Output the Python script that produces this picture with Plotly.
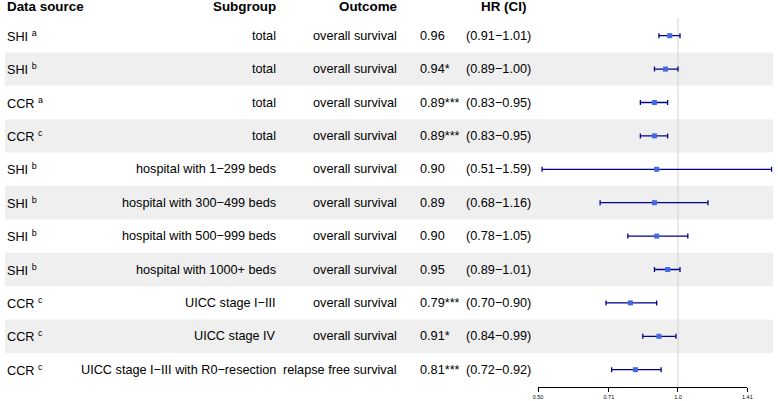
import math
import plotly.graph_objects as go

# ---------------- data ----------------
sources = ["SHI", "SHI", "CCR", "CCR", "SHI", "SHI", "SHI", "SHI", "CCR", "CCR", "CCR"]
notes = ["a", "b", "a", "c", "b", "b", "b", "b", "c", "c", "c"]
subgroups = ["total", "total", "total", "total",
             "hospital with 1\u2212299 beds", "hospital with 300\u2212499 beds",
             "hospital with 500\u2212999 beds", "hospital with 1000+ beds",
             "UICC stage I\u2212III", "UICC stage IV",
             "UICC stage I\u2212III with R0\u2212resection"]
outcomes = ["overall survival"] * 10 + ["relapse free survival"]
hr = [0.96, 0.94, 0.89, 0.89, 0.90, 0.89, 0.90, 0.95, 0.79, 0.91, 0.81]
sig = ["", "*", "***", "***", "", "", "", "", "***", "*", "***"]
lo = [0.91, 0.89, 0.83, 0.83, 0.51, 0.68, 0.78, 0.89, 0.70, 0.84, 0.72]
hi = [1.01, 1.00, 0.95, 0.95, 1.59, 1.16, 1.05, 1.01, 0.90, 0.99, 0.92]
headers = ["Data source", "Subgroup", "Outcome", "HR (CI)"]
tick_vals = [0.50, 0.71, 1.0, 1.41]
tick_text = ["0.50", "0.71", "1.0", "1.41"]

# ---------------- layout geometry ----------------
W, H = 778, 401
FONT = "Liberation Sans, Arial, Helvetica, sans-serif"
FS = 12.7
FS_HDR = 13.4
row_px0, row_step = 2.3, 33.4           # pixel y of row index 0 and spacing
axis_px_left, axis_px_right = 540, 752  # pixel x of first / last tick
axis_px_y = 387
header_px_y = 6
refline_top_px = 18

n = len(hr)
rows = list(range(1, n + 1))

def rowval(py):
    return (py - row_px0) / row_step

axis_row = rowval(axis_px_y)

# log10 range so that first tick -> axis_px_left, last tick -> axis_px_right
l0, l1 = math.log10(tick_vals[0]), math.log10(tick_vals[-1])
ppu = (axis_px_right - axis_px_left) / (l1 - l0)
xr = [l0 - axis_px_left / ppu, l0 + (W - axis_px_left) / ppu]
yr = [rowval(H), rowval(0)]

def px(x):
    return x / W

fig = go.Figure()

# CI lines + boxes
fig.add_trace(go.Scatter(
    x=hr, y=rows, mode="markers",
    marker=dict(symbol="square", size=5, color="royalblue",
                line=dict(width=0)),
    error_x=dict(type="data", symmetric=False,
                 array=[h - v for h, v in zip(hi, hr)],
                 arrayminus=[v - l for v, l in zip(hr, lo)],
                 color="darkblue", thickness=1.3, width=2.5),
    showlegend=False, hoverinfo="skip", cliponaxis=False))

# invisible trace for the tick axis
fig.add_trace(go.Scatter(x=tick_vals, y=[axis_row] * len(tick_vals), xaxis="x2",
                         mode="markers", marker=dict(opacity=0), showlegend=False,
                         hoverinfo="skip"))

shapes = []
# zebra bands
for r in rows:
    if r % 2 == 0:
        shapes.append(dict(type="rect", xref="paper", yref="y", x0=0, x1=1,
                           y0=r - 0.5, y1=r + 0.5, fillcolor="#EFEFEF",
                           line=dict(width=0), layer="below"))
# reference line at HR = 1
shapes.append(dict(type="line", xref="x", yref="y", x0=1, x1=1,
                   y0=rowval(refline_top_px), y1=axis_row,
                   line=dict(color="lightgray", width=1), layer="below"))

ann = []
txt_font = dict(family=FONT, size=FS, color="black")
hdr_font = dict(family=FONT, size=FS_HDR, color="black")
hy = rowval(header_px_y)
ann.append(dict(x=px(0), y=hy, text="<b>%s</b>" % headers[0], xanchor="left", font=hdr_font))
ann.append(dict(x=px(277), y=hy, text="<b>%s</b>" % headers[1], xanchor="right", font=hdr_font))
ann.append(dict(x=px(399), y=hy, text="<b>%s</b>" % headers[2], xanchor="right", font=hdr_font))
ann.append(dict(x=px(505), y=hy, text="<b>%s</b>" % headers[3], xanchor="center", font=hdr_font))

for i in range(n):
    r = rows[i]
    ann.append(dict(x=px(0), y=r, text="%s <sup>%s</sup>" % (sources[i], notes[i]),
                    xanchor="left", font=txt_font))
    ann.append(dict(x=px(277), y=r, text=subgroups[i], xanchor="right", font=txt_font))
    ann.append(dict(x=px(399), y=r, text=outcomes[i], xanchor="right", font=txt_font))
    val = "%.2f%s" % (hr[i], sig[i])
    ann.append(dict(x=px(418), y=r, text=val, xanchor="left", font=txt_font))
    ci = "(%.2f\u2212%.2f)" % (lo[i], hi[i])
    ann.append(dict(x=px(465), y=r, text=ci, xanchor="left", font=txt_font))

for a in ann:
    a.update(xref="paper", yref="y", showarrow=False, yanchor="middle")

fig.update_layout(
    width=W, height=H, margin=dict(l=0, r=0, t=0, b=0),
    paper_bgcolor="white", plot_bgcolor="rgba(0,0,0,0)",
    shapes=shapes, annotations=ann,
    xaxis=dict(type="log", range=xr, domain=[0, 1], visible=False, fixedrange=True),
    yaxis=dict(range=yr, domain=[0, 1], visible=False, fixedrange=True),
    xaxis2=dict(type="log", range=[l0, l1],
                domain=[axis_px_left / W, axis_px_right / W],
                anchor="free", position=1 - axis_px_y / H,
                showline=True, linecolor="black", linewidth=1,
                ticks="outside", ticklen=4, tickwidth=1, tickcolor="black",
                tickvals=tick_vals, ticktext=tick_text,
                tickfont=dict(family=FONT, size=5.5, color="black"),
                showgrid=False, zeroline=False, fixedrange=True),
)

fig.write_html("out.html")
